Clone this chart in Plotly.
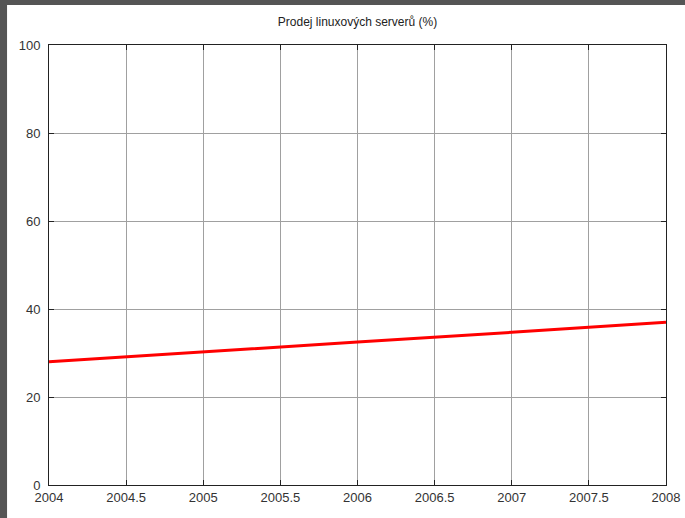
import plotly.graph_objects as go

years = [2004, 2005, 2006, 2007, 2008]
share = [28.0, 30.3, 32.5, 34.7, 37.0]
title = "Prodej linuxových serverů (%)"

fig = go.Figure()
fig.add_trace(go.Scatter(x=years, y=share, mode="lines",
                         line=dict(color="#ff0000", width=3), showlegend=False))

axis_common = dict(
    showline=True, linecolor="#222222", linewidth=1, mirror="ticks",
    ticks="inside", ticklen=5, tickcolor="#222222",
    showgrid=True, gridcolor="#a0a0a0", gridwidth=1, zeroline=False,
    tickfont=dict(family="Liberation Sans, Arial", size=13, color="#333333"),
)
fig.update_xaxes(range=[2004, 2008], dtick=0.5, tick0=2004, tickformat=".1~f",
                 ticklabelstandoff=0, automargin=False, **axis_common)
fig.update_yaxes(range=[0, 100], dtick=20, ticklabelstandoff=5, automargin=False,
                 **axis_common)

fig.add_shape(type="rect", xref="paper", yref="paper", layer="below",
              x0=-0.068, x1=1.1, y0=-0.1, y1=1.0909,
              fillcolor="white", line=dict(width=0))

fig.update_layout(
    width=685, height=518,
    margin=dict(l=49, r=19, t=45, b=33),
    paper_bgcolor="#555555", plot_bgcolor="white",
    title=dict(text=title, xref="paper", x=0.5, xanchor="center", y=0.957,
               yanchor="middle",
               font=dict(family="Liberation Sans, Arial", size=12, color="#222222")),
)
fig.write_html("out.html", config={"displayModeBar": False},
               post_script="document.body.style.margin='0';document.body.style.overflow='hidden';")
